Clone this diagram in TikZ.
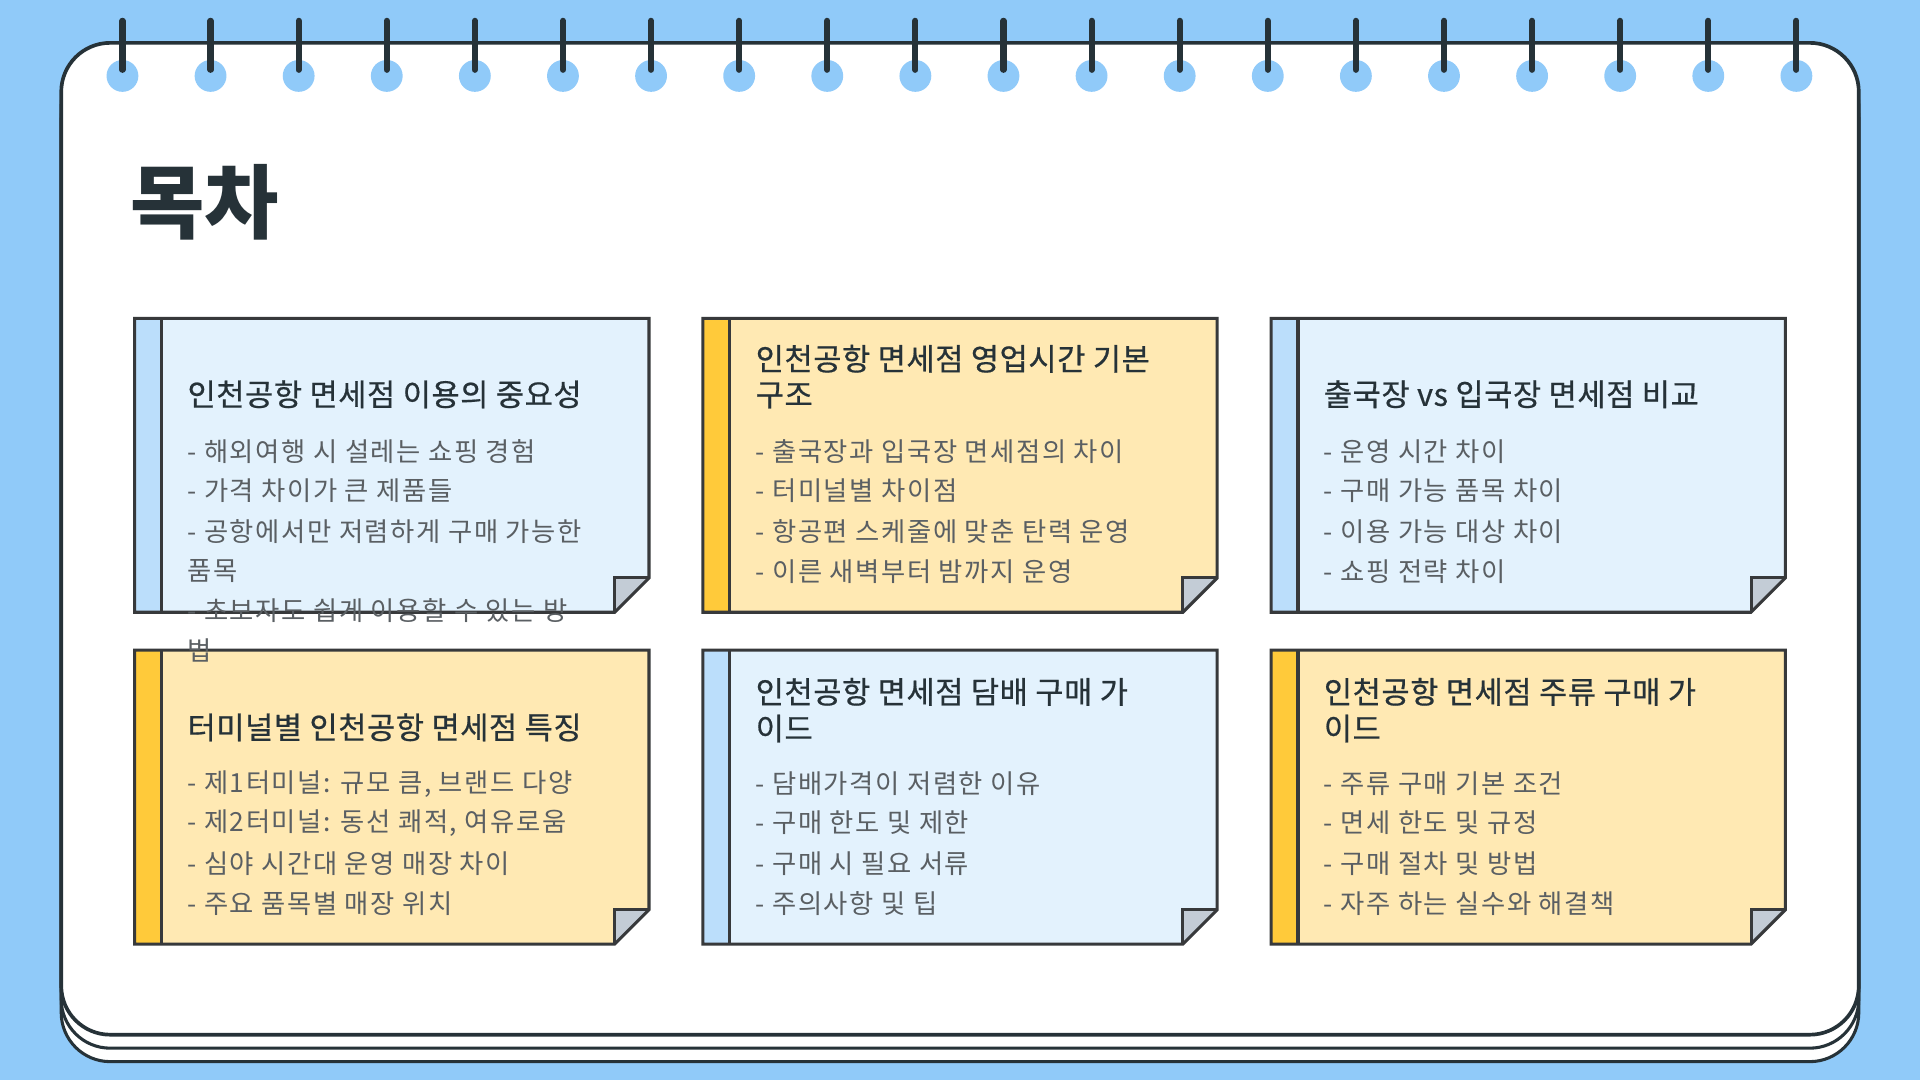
\documentclass[tikz,border=0pt]{standalone}
\usepackage{fontspec}
\setmainfont{Noto Sans CJK KR}
\newfontfamily\itemfont[LetterSpace=6]{Noto Sans CJK KR}
\newfontfamily\titlefont[LetterSpace=2,FakeBold=0.6]{Noto Sans CJK KR}
\definecolor{bgblue}{HTML}{90CAF9}
\definecolor{dark}{HTML}{263238}
\definecolor{cardline}{HTML}{37393B}
\definecolor{bluefill}{HTML}{E3F2FD}
\definecolor{bluestripe}{HTML}{BBDEFB}
\definecolor{yelfill}{HTML}{FFE9B3}
\definecolor{yelstripe}{HTML}{FFCA3A}
\definecolor{foldgray}{HTML}{C3CCD6}
\definecolor{itemgray}{HTML}{5A5F63}
\tikzset{
  ctitle/.style={anchor=west,inner sep=0pt,text=dark,font=\titlefont\fontsize{25}{28}\selectfont},
  citem/.style={anchor=west,inner sep=0pt,text=itemgray,font=\itemfont\fontsize{21.5}{24}\selectfont},
}
\newcommand{\mycard}[5]{% x1,y1,fill,stripe,name
  \fill[#3] (#1,#2) -- ++(420,0) -- ++(0,212) -- ++(-28,28) -- ++(-392,0) -- cycle;
  \fill[#4] (#1,#2) rectangle ++(22,240);
  \draw[cardline,line width=2.5pt] (#1+22,#2) -- ++(0,240);
  \fill[foldgray] (#1+392,#2+240) -- ++(0,-28) -- ++(28,0) -- cycle;
  \draw[cardline,line width=2.5pt,line join=miter] (#1+392,#2+240) -- ++(0,-28) -- ++(28,0);
  \draw[cardline,line width=2.5pt,line join=miter] (#1,#2) -- ++(420,0) -- ++(0,212) -- ++(-28,28) -- ++(-392,0) -- cycle;
  \coordinate (#5) at (#1,#2);
}
\begin{document}
\begin{tikzpicture}[x=1pt,y=-1pt]
\fill[bgblue] (0,0) rectangle (1568,882);
\useasboundingbox (0,0) rectangle (1568,882);
% stacked pages
\foreach \d in {22,11}{
  \draw[dark,line width=2.5pt,fill=white,rounded corners=40pt] (50,35+\d) rectangle (1518,845+\d);
}
\draw[dark,line width=3pt,fill=white,rounded corners=40pt] (50,35) rectangle (1518,845);
% rings
\foreach \i in {0,...,19}{
  \pgfmathsetmacro\xx{100+\i*71.95}
  \fill[bgblue] (\xx,62) circle (13);
  \draw[dark,line width=5pt,line cap=round] (\xx,17) -- (\xx,57);
}
\node[anchor=west,inner sep=0pt,text=dark,font=\fontsize{66}{72}\selectfont\bfseries] (title) at (106,165) {목차};
% cards
\mycard{110}{260}{bluefill}{bluestripe}{c1}
\mycard{574}{260}{yelfill}{yelstripe}{c2}
\mycard{1038}{260}{bluefill}{bluestripe}{c3}
\mycard{110}{531}{yelfill}{yelstripe}{c4}
\mycard{574}{531}{bluefill}{bluestripe}{c5}
\mycard{1038}{531}{yelfill}{yelstripe}{c6}
% card 1
\node[ctitle] (t1) at (153,322) {인천공항 면세점 이용의 중요성};
\node[citem] (a1) at (153,369) {- 해외여행 시 설레는 쇼핑 경험};
\node[citem] (a2) at (153,401) {- 가격 차이가 큰 제품들};
\node[citem] (a3) at (153,434) {- 공항에서만 저렴하게 구매 가능한};
\node[citem] (a4) at (153,466) {품목};
\node[citem] (a5) at (153,499) {- 초보자도 쉽게 이용할 수 있는 방};
\node[citem] (a6) at (153,531) {법};
% card 2
\node[ctitle] (t2a) at (617,293) {인천공항 면세점 영업시간 기본};
\node[ctitle] (t2b) at (617,323) {구조};
\node[citem] (b1) at (617,369) {- 출국장과 입국장 면세점의 차이};
\node[citem] (b2) at (617,401) {- 터미널별 차이점};
\node[citem] (b3) at (617,434) {- 항공편 스케줄에 맞춘 탄력 운영};
\node[citem] (b4) at (617,467) {- 이른 새벽부터 밤까지 운영};
% card 3
\node[ctitle] (t3) at (1081,322) {출국장 vs 입국장 면세점 비교};
\node[citem] (e1) at (1081,369) {- 운영 시간 차이};
\node[citem] (e2) at (1081,401) {- 구매 가능 품목 차이};
\node[citem] (e3) at (1081,434) {- 이용 가능 대상 차이};
\node[citem] (e4) at (1081,467) {- 쇼핑 전략 차이};
% card 4
\node[ctitle] (t4) at (153,594) {터미널별 인천공항 면세점 특징};
\node[citem] (f1) at (153,640) {- 제1터미널: 규모 큼, 브랜드 다양};
\node[citem] (f2) at (153,672) {- 제2터미널: 동선 쾌적, 여유로움};
\node[citem] (f3) at (153,705) {- 심야 시간대 운영 매장 차이};
\node[citem] (f4) at (153,738) {- 주요 품목별 매장 위치};
% card 5
\node[ctitle] (t5a) at (617,565) {인천공항 면세점 담배 구매 가};
\node[ctitle] (t5b) at (617,595) {이드};
\node[citem] (g1) at (617,640) {- 담배가격이 저렴한 이유};
\node[citem] (g2) at (617,672) {- 구매 한도 및 제한};
\node[citem] (g3) at (617,705) {- 구매 시 필요 서류};
\node[citem] (g4) at (617,738) {- 주의사항 및 팁};
% card 6
\node[ctitle] (t6a) at (1081,565) {인천공항 면세점 주류 구매 가};
\node[ctitle] (t6b) at (1081,595) {이드};
\node[citem] (h1) at (1081,640) {- 주류 구매 기본 조건};
\node[citem] (h2) at (1081,672) {- 면세 한도 및 규정};
\node[citem] (h3) at (1081,705) {- 구매 절차 및 방법};
\node[citem] (h4) at (1081,738) {- 자주 하는 실수와 해결책};
\end{tikzpicture}
\end{document}
